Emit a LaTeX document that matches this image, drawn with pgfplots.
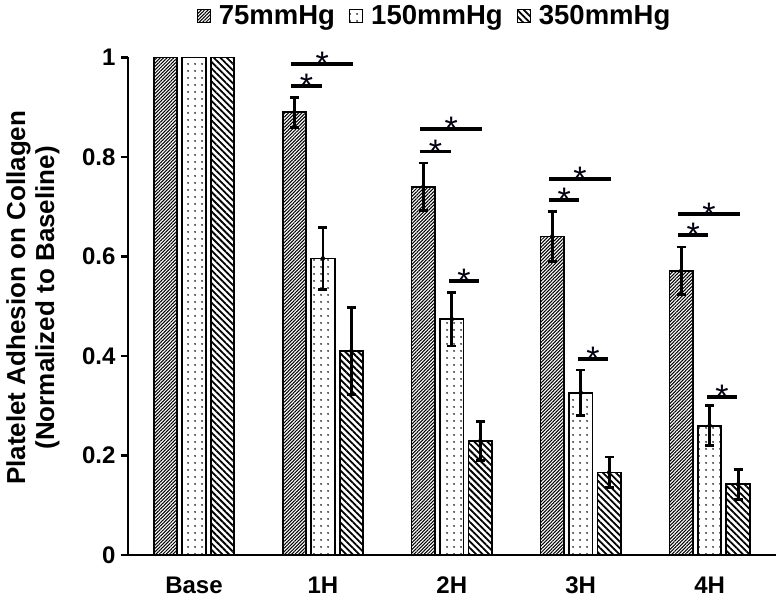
\documentclass[border=0pt]{standalone}
\usepackage{pgfplots}
\pgfplotsset{compat=1.18}
\usepackage{fontspec}
\setmainfont{Liberation Sans}
\usetikzlibrary{patterns,patterns.meta}
\begin{document}
\begin{tikzpicture}
\useasboundingbox (-128pt,-50pt) rectangle (651pt,555pt);
\pgfplotsset{
  mylegend/.style={legend image code/.code={\draw[##1,line width=1.2pt] (0pt,-6.5pt) rectangle (13pt,6.5pt);}},
  p75/.style={draw=black, line width=1.8pt, pattern={Lines[angle=45,distance=2.4pt,line width=1.05pt]}, pattern color=black},
  p150/.style={draw=black, line width=1.8pt, pattern={Dots[distance=6.5pt,radius=1.1pt]}, pattern color=black!80},
  p350/.style={draw=black, line width=1.8pt, pattern={Lines[angle=-45,distance=4.6pt,line width=1.8pt]}, pattern color=black},
  myerr/.style={forget plot, only marks, mark=none, error bars/.cd, y dir=both, y explicit,
     error bar style={line width=2.8pt, black, solid},
     error mark options={rotate=90, mark size=4.5pt, line width=2.8pt, black}},
}
\begin{axis}[
  scale only axis,
  width=648pt, height=497.5pt,
  xmin=-0.512, xmax=4.515,
  ymin=0, ymax=1,
  clip=false,
  axis x line=bottom, axis y line=left,
  axis line style={-, line width=2.2pt},
  xtick={0,1,2,3,4},
  xticklabels={Base,1H,2H,3H,4H},
  x tick style={draw=none},
  ytick={0,0.2,0.4,0.6,0.8,1},
  y tick style={line width=2.2pt, black},
  tick align=outside,
  major tick length=7pt,
  /pgf/number format/assume math mode=true,
  ticklabel style={font=\fontsize{24}{24}\selectfont\bfseries},
  xticklabel style={yshift=-11pt},
  yticklabel style={xshift=-2pt},
  bar width=0.182,
  ylabel={Platelet Adhesion on Collagen\\(Normalized to Baseline)},
  ylabel style={at={(axis description cs:-0.1466,0.517)}, anchor=center, align=center, font=\fontsize{26}{29}\selectfont\bfseries},
  legend style={at={(axis description cs:0.473,1)}, anchor=south, yshift=27pt, draw=none, fill=none,
    legend columns=-1, font=\fontsize{27.5}{29}\selectfont\bfseries,
    /tikz/every odd column/.append style={column sep=6pt},
    /tikz/every even column/.append style={column sep=12pt}},
]
\addplot[ybar, bar shift=-0.221, p75, mylegend] coordinates {
  (0,1) (1,0.890) (2,0.740) (3,0.640) (4,0.571)
};
\addplot[ybar, bar shift=0, p150, mylegend] coordinates {
  (0,1) (1,0.596) (2,0.474) (3,0.326) (4,0.260)
};
\addplot[ybar, bar shift=0.221, p350, mylegend] coordinates {
  (0,1) (1,0.410) (2,0.229) (3,0.166) (4,0.142)
};
\legend{75mmHg,150mmHg,350mmHg}
% error bars (at the bar centres)
\addplot[myerr] coordinates {
  (0.779,0.890) +- (0,0.030)
  (1.779,0.740) +- (0,0.048)
  (2.779,0.640) +- (0,0.050)
  (3.779,0.571) +- (0,0.048)
};
\addplot[myerr] coordinates {
  (1,0.596) +- (0,0.062)
  (2,0.474) +- (0,0.054)
  (3,0.326) +- (0,0.046)
  (4,0.260) +- (0,0.040)
};
\addplot[myerr] coordinates {
  (1.221,0.410) +- (0,0.087)
  (2.221,0.229) +- (0,0.039)
  (3.221,0.166) +- (0,0.031)
  (4.221,0.142) +- (0,0.030)
};
% significance lines
\pgfplotsset{every axis plot/.append style={forget plot}}
\addplot[black, line width=3.5pt] coordinates {(0.755,0.943) (0.99,0.943)};
\addplot[black, line width=3.5pt] coordinates {(0.755,0.987) (1.235,0.987)};
\addplot[black, line width=3.5pt] coordinates {(1.755,0.811) (1.99,0.811)};
\addplot[black, line width=3.5pt] coordinates {(1.755,0.856) (2.235,0.856)};
\addplot[black, line width=3.5pt] coordinates {(1.98,0.551) (2.21,0.551)};
\addplot[black, line width=3.5pt] coordinates {(2.755,0.714) (2.99,0.714)};
\addplot[black, line width=3.5pt] coordinates {(2.755,0.756) (3.235,0.756)};
\addplot[black, line width=3.5pt] coordinates {(2.98,0.394) (3.21,0.394)};
\addplot[black, line width=3.5pt] coordinates {(3.755,0.643) (3.99,0.643)};
\addplot[black, line width=3.5pt] coordinates {(3.755,0.685) (4.235,0.685)};
\addplot[black, line width=3.5pt] coordinates {(3.98,0.318) (4.21,0.318)};
\tikzset{star/.style={anchor=south, inner sep=0pt, yshift=-12pt, font=\fontsize{34}{34}\selectfont, text=black!90!blue!60!black}}
\node[star] at (axis cs:0.8725,0.943) {*};
\node[star] at (axis cs:0.995,0.987) {*};
\node[star] at (axis cs:1.8725,0.811) {*};
\node[star] at (axis cs:1.995,0.856) {*};
\node[star] at (axis cs:2.095,0.551) {*};
\node[star] at (axis cs:2.8725,0.714) {*};
\node[star] at (axis cs:2.995,0.756) {*};
\node[star] at (axis cs:3.095,0.394) {*};
\node[star] at (axis cs:3.8725,0.643) {*};
\node[star] at (axis cs:3.995,0.685) {*};
\node[star] at (axis cs:4.095,0.318) {*};
\end{axis}
\end{tikzpicture}
\end{document}
